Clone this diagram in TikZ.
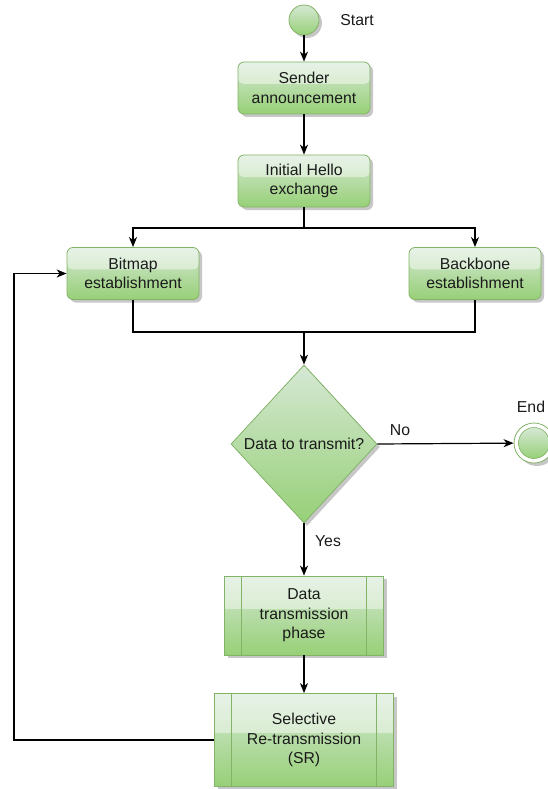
\documentclass[tikz,border=0pt]{standalone}
\usepackage{fontspec}
\setmainfont{Liberation Sans}
\usetikzlibrary{shapes.geometric,arrows.meta,shadows,calc}
\definecolor{gline}{HTML}{82B366}
\definecolor{gtop}{HTML}{D5E8D4}
\definecolor{gbot}{HTML}{97D077}
\definecolor{txt}{HTML}{1A1A1A}

\tikzset{
  lbl/.style={font=\fontsize{15.8}{19.5}\selectfont, text=txt, inner sep=0pt},
  softshadow/.style={drop shadow={shadow xshift=3pt, shadow yshift=-3pt, fill=black, opacity=0.22}},
  greenfill/.style={draw=gline, line width=0.8pt, top color=gtop, bottom color=gbot, softshadow},
  glass/.style={path picture={
      \fill[white, opacity=0.45] (path picture bounding box.north west) rectangle
        ($(path picture bounding box.north east)!0.42!(path picture bounding box.south east)$);
  }},
  stepbox/.style={lbl, greenfill, glass, rounded corners=6pt, minimum width=132pt,
      minimum height=52pt, align=center},
  procbox/.style={lbl, greenfill, align=center, path picture={
      \fill[white, opacity=0.45] (path picture bounding box.north west) rectangle
        ($(path picture bounding box.north east)!0.42!(path picture bounding box.south east)$);
      \draw[gline, line width=0.6pt] ([xshift=17pt]path picture bounding box.north west) --
        ([xshift=17pt]path picture bounding box.south west);
      \draw[gline, line width=0.6pt] ([xshift=-17pt]path picture bounding box.north east) --
        ([xshift=-17pt]path picture bounding box.south east);
  }},
  decision/.style={lbl, greenfill, diamond, shape aspect=0.92, minimum width=146pt,
      minimum height=158pt, inner sep=0pt},
  startdot/.style={circle, greenfill, minimum size=30pt, inner sep=0pt},
  flow/.style={line width=1.2pt, black},
  arr/.style={flow, -{Stealth[length=10pt, width=8pt, inset=3pt]}},
}

\begin{document}
\begin{tikzpicture}[x=1pt, y=-1pt]
  \useasboundingbox (0,0) rectangle (548,789);

  % start and end markers
  \node[startdot] (start) at (304,20) {};
  \node[lbl] (startlbl) at (357,20) {Start};

  \node[circle, draw=gline, line width=0.8pt, fill=white, minimum size=40pt, inner sep=0pt,
        softshadow] (end) at (534,443) {};
  \node[circle, draw=gline, line width=0.6pt, top color=gtop, bottom color=gbot,
        minimum size=31pt, inner sep=0pt] (endin) at (end.center) {};
  \node[lbl] (endlbl) at (531,407) {End};

  % process steps
  \node[stepbox] (sender) at (304,88) {Sender\\announcement};
  \node[stepbox] (hello) at (304,181) {Initial Hello\\exchange};
  \node[stepbox] (bitmap) at (133,273.5) {Bitmap\\establishment};
  \node[stepbox] (backbone) at (475,273.5) {Backbone\\establishment};

  \node[decision] (dec) at (304,444) {Data to transmit?};

  \node[procbox, minimum width=159pt, minimum height=79pt] (datatx) at (304,615.5)
        {Data\\transmission\\phase};
  \node[procbox, minimum width=179pt, minimum height=93pt] (sel) at (304,740)
        {Selective\\Re-transmission\\(SR)};

  % branch and merge points
  \coordinate (split) at (304,228);
  \coordinate (merge) at (304,332);
  \coordinate (back) at (14,740);

  % connectors
  \draw[arr] (start) -- (sender);
  \draw[arr] (sender) -- (hello);
  \draw[flow] (hello) -- (split);
  \draw[arr] (split) -| (bitmap);
  \draw[arr] (split) -| (backbone);
  \draw[flow] (bitmap) |- (merge);
  \draw[flow] (backbone) |- (merge);
  \draw[arr] (merge) -- (dec);
  \draw[arr] (dec.east) -- (end);
  \draw[arr] (dec.south) -- (datatx);
  \draw[arr] (datatx) -- (sel);
  \draw[arr] (sel.west) -- (back) |- (bitmap.west);

  % branch labels
  \node[lbl] (nolbl) at (400,430) {No};
  \node[lbl] (yeslbl) at (328,541) {Yes};
\end{tikzpicture}
\end{document}
